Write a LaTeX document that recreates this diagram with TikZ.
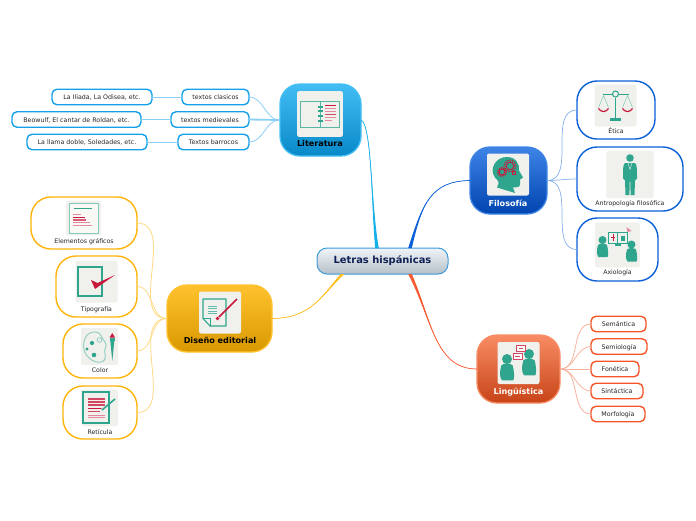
\documentclass[tikz,border=0pt]{standalone}
\usepackage{fontspec}
\setmainfont{DejaVu Sans}
\usetikzlibrary{positioning, calc}

\definecolor{verde}{HTML}{2FA58E}
\definecolor{rojo}{HTML}{C8193C}
\definecolor{rosa}{HTML}{E58A9E}
\definecolor{papel}{HTML}{F0F0EC}
\definecolor{marino}{HTML}{102054}
\definecolor{celeste}{HTML}{14A0EB}
\definecolor{azul}{HTML}{0A60D8}
\definecolor{naranja}{HTML}{F55528}
\definecolor{ambar}{HTML}{FFB40A}
\definecolor{temalit}{HTML}{0888C8}
\definecolor{altolit}{HTML}{42BEF4}
\definecolor{temafil}{HTML}{0044B0}
\definecolor{altofil}{HTML}{3E84E6}
\definecolor{temalin}{HTML}{C84418}
\definecolor{altolin}{HTML}{F88C64}
\definecolor{temadis}{HTML}{D89800}
\definecolor{altodis}{HTML}{FFC22E}
\definecolor{ramalit}{HTML}{14B0E8}
\definecolor{ramafil}{HTML}{0A60D8}
\definecolor{ramalin}{HTML}{F55A32}
\definecolor{ramadis}{HTML}{FFBE1E}
\definecolor{bordecentral}{HTML}{3B9AD8}
\definecolor{altocentral}{HTML}{F0F4F8}
\definecolor{bajocentral}{HTML}{B5C0C8}

\newcommand{\rama}[5]{%
	\fill[#5] ([xshift=-1.8]#1) .. controls (#2) and (#3) .. (#4) .. controls (#3) and (#2) .. ([xshift=1.8]#1) -- cycle;
	\draw[#5, line width=.7] (#1) .. controls (#2) and (#3) .. (#4);
}

\tikzset{
	iconbg/.pic={\fill[papel, rounded corners=2] (-21,-21) rectangle (21,21);},
	libro/.pic={
		\draw[verde!80, line width=.9] (-19.5,-13) rectangle (19.5,13) (0,-13) -- (0,13);
		\foreach \y in {-7,-3,2,7} \draw[verde, line width=1.3] (-2.5,\y) -- (2.5,\y);
		\draw[rojo, line width=.9] (5,-9) -- (16,-9);
		\foreach \y in {-6,-3,3} \draw[rosa, line width=.8] (5,\y) -- (16,\y);
		\draw[rojo!80, line width=.8] (5,0) -- (16,0);
		\draw[rosa, line width=.8] (5,6) -- (12,6);
	},
	engrane/.pic={
		\draw[rojo, line width=1] (0,0) circle (2.6);
		\draw[rojo, line width=1.3, dash pattern=on 1.2 off 1.2] (0,0) circle (3.8);
	},
	cabeza/.pic={
		\fill[verde] (-11,13) .. controls (-8,8) and (-10,6) .. (-13,3)
			.. controls (-19,-5) and (-13,-17.5) .. (-1,-17.5)
			.. controls (8,-17.5) and (12,-10) .. (11,-4) -- (15,3) -- (12,5) -- (12,10)
			.. controls (12,13) and (8,13) .. (5,13) -- (7,18.5) -- cycle;
		\pic[scale=1.5] at (2,-8.5) {engrane};
		\pic[scale=1.15] at (-6,-2.5) {engrane};
		\draw[rojo, line width=.8] (4.5,-3) rectangle (7.5,-0.5);
	},
	balanza/.pic={
		\draw[verde, line width=1] (-13,-11.5) -- (-3,-11.5) (3,-11.5) -- (13,-11.5);
		\draw[verde, line width=1] (0,-11.5) circle (3);
		\draw[verde, line width=1.3] (0,-8) -- (0,12);
		\fill[verde] (-5.5,12.5) rectangle (5.5,15.5);
		\draw[verde!70, line width=.4] (-17,2) -- (-12,-10) -- (-7,2) (17,2) -- (12,-10) -- (7,2);
		\draw[rojo, line width=1.2] (-17,3) .. controls (-15,7) and (-9,7) .. (-7,3);
		\draw[rojo, line width=1.2] (7,3) .. controls (9,7) and (15,7) .. (17,3);
	},
	hombre/.pic={
		\fill[verde] (0,-16.5) circle (3.8);
		\fill[verde] (-5,-11.5) -- (5,-11.5) .. controls (7,-10) and (7,-6) .. (7,4) -- (5,6) -- (4.5,20.5)
			-- (0.6,20.5) -- (0.3,7) -- (-0.3,7) -- (-0.6,20.5) -- (-4.5,20.5) -- (-5,6) -- (-7,4)
			.. controls (-7,-6) and (-7,-10) .. (-5,-11.5) -- cycle;
		\draw[papel, line width=.4] (-2,-11.5) -- (0,-5) -- (2,-11.5);
	},
	persona/.pic={
		\fill[verde] (0,-6) circle (4);
		\fill[verde] (-4.5,-1) .. controls (-2,-3) and (2,-3) .. (4.5,-1)
			.. controls (6,5) and (6,10) .. (5,11) -- (-4,11) .. controls (-6,9) and (-6,4) .. (-4.5,-1) -- cycle;
	},
	axio/.pic={
		\pic at (-15,1) {persona};
		\pic at (14,5.5) {persona};
		\draw[verde, line width=.7] (-9.5,-13) rectangle (9.5,-2);
		\fill[verde] (-3,-1) rectangle (3,0.5);
		\draw[verde, line width=.5] (0,-13) -- (0,-2);
		\draw[rojo, line width=.7] (-4.5,-11) -- (-4.5,-4) (-6.5,-7.5) -- (-2.5,-7.5);
		\fill[verde] (3,-9) rectangle (7,-4);
		\fill[rosa] (9,-18) -- (14,-14) -- (10,-13) -- cycle;
	},
	hoja/.pic={
		\draw[verde!60, line width=1, fill=white!50!papel] (-14.5,-15) rectangle (14.5,15);
		\draw[verde, line width=1] (-9.5,-10) -- (8.5,-10);
		\draw[rosa, line width=1] (-10.8,-4) -- (-2.8,-4);
		\draw[rojo, line width=.6] (-10.8,-1) -- (1,-1);
		\draw[rojo!70, line width=1.2] (-10.8,2) -- (2.5,2);
		\draw[rosa, line width=1] (-10.8,4.7) -- (6.5,4.7) (-10.8,7.7) -- (8.8,7.7);
	},
	marca/.pic={
		\draw[verde, line width=1.2] (-18.5,-14.5) rectangle (5.5,14.5);
		\fill[rojo] (-5.5,-1.5) -- (-1,0.5) -- (1,1.5) -- (18.5,-6.5) -- (-1.5,7.5) -- cycle;
	},
	paleta/.pic={
		\draw[verde!55, line width=.9] (-5,-14.5) .. controls (-14,-14.5) and (-17,-5) .. (-15.5,3)
			.. controls (-13.5,12) and (-3,18) .. (3,15) .. controls (9,12) and (3,5) .. (6,1)
			.. controls (8,-2) and (5,-5) .. (3,-8) .. controls (1,-12) and (0,-14.5) .. (-5,-14.5) -- cycle;
		\draw[verde!55, line width=.8] (0,-6.5) circle (2.3);
		\fill[verde] (-7.5,-3.5) circle (2.1) (-12.5,2.5) circle (1.6) (-5.5,8.5) circle (2.3);
		\fill[rojo] (12.8,-13.5) -- (15.5,-9) -- (10,-9) -- cycle;
		\fill[verde] (10,-9) rectangle (15.5,-5.5);
		\fill[verde] (10.8,-5.5) -- (14.8,-5.5) -- (12.8,14.5) -- cycle;
	},
	reticula/.pic={
		\draw[verde, line width=1.2] (-16.5,-16) rectangle (9.5,15);
		\foreach \y in {-9,-6,-3} \draw[rojo!80, line width=1.2] (-11.5,\y) -- (5.5,\y);
		\draw[rojo, line width=.6] (-11.5,0) -- (5.5,0);
		\draw[rojo!80, line width=1.2] (-11.5,3.7) -- (0.5,3.7);
		\draw[rosa, line width=1] (-11.5,7) -- (5.5,7);
		\draw[rosa, line width=.8] (-11.5,9.7) -- (5.5,9.7);
		\draw[papel, line width=3] (1.5,3) -- (6,-1);
		\draw[verde, line width=1.6] (2.5,2) -- (15.5,-9);
	},
	firma/.pic={
		\draw[verde, line width=1.1, line join=round] (-17,-13.5) -- (6,-13.5) -- (6,13.5) -- (-10,13.5) -- (-17,6) -- cycle;
		\draw[verde, line width=1] (-17,6) -- (-10,6) -- (-10,13.5);
		\foreach \y in {-6.5,-4,-1.5,.8} \draw[verde!75, line width=.7] (-12,\y) -- (-3,\y);
		\draw[rojo, line width=1.7] (-1,4.5) -- (17,-13.5);
		\fill[rojo] (-2.5,6) circle (1.9);
	},
	charla/.pic={
		\pic[scale=1.25] at (-11.5,3.5) {persona};
		\pic[scale=1.25] at (10.5,-1.5) {persona};
		\draw[rojo!80, line width=.7, fill=white] (-2.5,-18) rectangle (6.5,-12);
		\draw[rojo!80, line width=.7, fill=white] (-5.5,-10) rectangle (3.5,-4);
		\draw[rojo!80, line width=.6] (0,-15) -- (4.5,-15) (-3.5,-7) -- (1,-7);
	},
}

\begin{document}
\begin{tikzpicture}[
	x=1pt, y=-1pt,
	every node/.style={inner sep=0pt, outer sep=0pt},
	tema/.style 2 args={draw=#2, rounded corners=20, line width=1.3, top color=#2, bottom color=#1},
	hojita/.style={draw=#1, fill=white, line width=1.4, rounded corners=20},
	caja/.style={draw=#1, fill=white, line width=1.4, rounded corners=5, minimum height=15.5, text height=5, text depth=0, font=\fontsize{6.3}{7}\selectfont, text=black!85},
	rotulo/.style={font=\fontsize{8.1}{9}\selectfont\bfseries},
	pie/.style={font=\fontsize{6.2}{7}\selectfont, text=black!85},
	]
	\useasboundingbox (0,0) rectangle (696,520);

	% Nodo central
	\node[draw=bordecentral, line width=1, rounded corners=10, top color=altocentral, bottom color=bajocentral,
		minimum width=131, minimum height=26, font=\fontsize{9.9}{11}\selectfont\bfseries, text=marino]
		(central) at (382.5,261) {Letras hispánicas};

	% Temas
	\node[tema={temalit}{altolit}, minimum width=81, minimum height=72] (literatura) at (320.5,120) {};
	\node[tema={temafil}{altofil}, minimum width=77, minimum height=67] (filosofia) at (508.5,180.5) {};
	\node[tema={temalin}{altolin}, minimum width=83, minimum height=68] (linguistica) at (518.5,369) {};
	\node[tema={temadis}{altodis}, minimum width=105, minimum height=67] (diseno) at (219.5,318.5) {};

	\pic at (320,114) [scale=1.09] {iconbg};
	\pic at (320,114) {libro};
	\pic at (508,174.5) {iconbg};
	\pic at (508,174.5) {cabeza};
	\pic at (518.5,363) {iconbg};
	\pic at (518.5,363) {charla};
	\pic at (220,312.5) {iconbg};
	\pic at (220,312.5) {firma};

	\node[rotulo] (literaturatxt) at (320,143.5) {Literatura};
	\node[rotulo, text=white] (filosofiatxt) at (508,203) {Filosofía};
	\node[rotulo, text=white] (linguisticatxt) at (518.5,392) {Lingüística};
	\node[rotulo] (disenotxt) at (220,340) {Diseño editorial};

	% Ramas principales
	\coordinate (salidalit) at ([xshift=-5.5]central.north);
	\coordinate (salidafil) at ([xshift=27.5]central.north);
	\coordinate (salidalin) at ([xshift=27.5]central.south);
	\coordinate (salidadis) at ([xshift=-40]central.south);
	\rama{salidalit}{371,205}{372,125}{literatura.east}{ramalit}
	\rama{salidafil}{422,205}{430,181}{filosofia.west}{ramafil}
	\rama{salidalin}{432,320}{435,369}{linguistica.west}{ramalin}
	\rama{salidadis}{322,295}{312,318}{diseno.east}{ramadis}

	% Literatura
	\node[caja=celeste, anchor=east, minimum width=67] (clasicos) at (249,97) {textos clasicos};
	\node[caja=celeste, anchor=east, minimum width=78] (medievales) at (249,119.5) {textos medievales};
	\node[caja=celeste, anchor=east, minimum width=71] (barrocos) at (249,142) {Textos barrocos};
	\node[caja=celeste, anchor=east, minimum width=100] (iliada) at (152,97) {La Iliada, La Odisea, etc.};
	\node[caja=celeste, anchor=east, minimum width=129] (beowulf) at (141,119.5) {Beowulf, El cantar de Roldan, etc.};
	\node[caja=celeste, anchor=east, minimum width=120] (llama) at (147,142) {La llama doble, Soledades, etc.};
	\begin{scope}[color=celeste!50, line width=.8]
		\draw (literatura.west) to[out=180, in=0] (clasicos.east);
		\draw[line width=1.8] (literatura.west) -- (medievales.east);
		\draw (literatura.west) to[out=180, in=0] (barrocos.east);
		\draw (clasicos.west) -- (iliada.east);
		\draw[line width=1.8] (medievales.west) -- (beowulf.east);
		\draw (barrocos.west) -- (llama.east);
	\end{scope}

	% Filosofia
	\node[hojita=azul, minimum width=78, minimum height=58] (etica) at (616,110) {};
	\node[hojita=azul, minimum width=106, minimum height=64] (antropologia) at (630,179) {};
	\node[hojita=azul, minimum width=81, minimum height=63] (axiologia) at (617.5,249.5) {};
	\pic at (615.5,105.5) {iconbg};
	\pic at (615.5,105.5) {balanza};
	\pic at (630,174.5) [scale=1.12] {iconbg};
	\pic at (630,174.5) {hombre};
	\pic at (617.5,245) [scale=1.06] {iconbg};
	\pic at (617.5,245) {axio};
	\node[pie] (eticatxt) at (616,131) {Ética};
	\node[pie] (antropologiatxt) at (630,203.5) {Antropología filosófica};
	\node[pie] (axiologiatxt) at (617.5,272.5) {Axiología};
	\begin{scope}[color=azul!50, line width=.7]
		\draw (filosofia.east) to[out=0, in=180] (etica.west);
		\draw (filosofia.east) to[out=0, in=180] (antropologia.west);
		\draw (filosofia.east) to[out=0, in=180] (axiologia.west);
	\end{scope}

	% Diseno editorial
	\node[hojita=ambar, minimum width=106, minimum height=52] (elementos) at (84,223) {};
	\node[hojita=ambar, minimum width=81, minimum height=61] (tipografia) at (96.5,286.5) {};
	\node[hojita=ambar, minimum width=74, minimum height=54] (color) at (100,351) {};
	\node[hojita=ambar, minimum width=74, minimum height=53] (reticula) at (100,412.5) {};
	\pic at (83.5,218) [scale=.83] {iconbg};
	\pic at (83.5,218) {hoja};
	\pic at (96.5,281.5) {iconbg};
	\pic at (96.5,281.5) {marca};
	\pic at (99.5,346.5) [scale=.88] {iconbg};
	\pic at (99.5,346.5) {paleta};
	\pic at (99.5,408) [scale=.87] {iconbg};
	\pic at (99.5,408) {reticula};
	\node[pie] (elementostxt) at (84,241.5) {Elementos gráficos};
	\node[pie] (tipografiatxt) at (96.5,309.5) {Tipografía};
	\node[pie] (colortxt) at (100,370.5) {Color};
	\node[pie] (reticulatxt) at (100,432.5) {Retícula};
	\begin{scope}[color=ambar!50, line width=.8]
		\draw (diseno.west) to[out=180, in=0] (elementos.east);
		\draw (diseno.west) to[out=180, in=0] (tipografia.east);
		\draw (diseno.west) to[out=180, in=0] (color.east);
		\draw (diseno.west) to[out=180, in=0] (reticula.east);
	\end{scope}

	% Linguistica
	\node[caja=naranja, anchor=west, minimum width=55] (semantica) at (591,324) {Semántica};
	\node[caja=naranja, anchor=west, minimum width=56] (semiologia) at (591,346.5) {Semiología};
	\node[caja=naranja, anchor=west, minimum width=48] (fonetica) at (591,369) {Fonética};
	\node[caja=naranja, anchor=west, minimum width=52] (sintactica) at (591,391) {Sintáctica};
	\node[caja=naranja, anchor=west, minimum width=54] (morfologia) at (591,414) {Morfología};
	\begin{scope}[color=naranja!45, line width=.8]
		\draw (linguistica.east) to[out=0, in=180] (semantica.west);
		\draw (linguistica.east) to[out=0, in=180] (semiologia.west);
		\draw (linguistica.east) -- (fonetica.west);
		\draw (linguistica.east) to[out=0, in=180] (sintactica.west);
		\draw (linguistica.east) to[out=0, in=180] (morfologia.west);
	\end{scope}
\end{tikzpicture}
\end{document}
